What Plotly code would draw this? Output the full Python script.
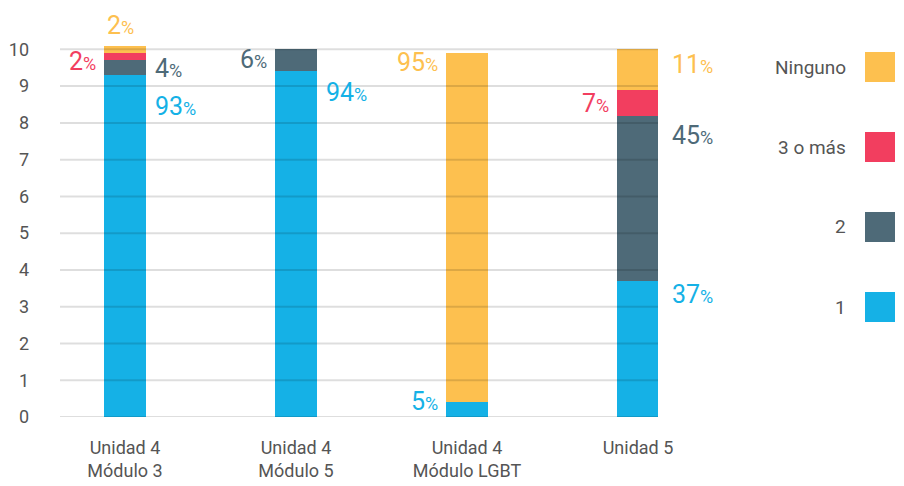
import plotly.graph_objects as go

# categories and series (y axis runs 0-10, i.e. share of 10)
categories = ["Unidad 4<br>Módulo 3", "Unidad 4<br>Módulo 5", "Unidad 4<br>Módulo LGBT", "Unidad 5"]
series_names = ["1", "2", "3 o más", "Ninguno"]
val_1 = [9.3, 9.4, 0.4, 3.7]
val_2 = [0.4, 0.6, 0.0, 4.5]
val_3 = [0.2, 0.0, 0.0, 0.7]
val_none = [0.2, 0.0, 9.5, 1.1]

pct_1 = [93, 94, 5, 37]
pct_2 = [4, 6, None, 45]
pct_3 = [2, None, None, 7]
pct_none = [2, None, 95, 11]

colors = ["#15b1e6", "#4e6a78", "#f23e5f", "#fdc04f"]
FONT = "Ubuntu Condensed, Roboto, sans-serif"
TXT = "#555555"

# where each percent label sits: (side, y) per series per bar
label_place = {
    0: [("right", 8.45), ("right", 8.83), ("left", 0.41), ("right", 3.32)],
    1: [("right", 9.48), ("left", 9.73), None, ("right", 7.66)],
    2: [("left", 9.67), None, None, ("left", 8.53)],
    3: [("top", 10.1), None, ("left", 9.65), ("right", 9.6)],
}

xs = list(range(len(categories)))
fig = go.Figure()
for name, vals, col in zip(series_names, [val_1, val_2, val_3, val_none], colors):
    fig.add_trace(go.Bar(x=xs, y=vals, name=name, marker=dict(color=col, line=dict(width=0)),
                         width=0.25, hoverinfo="skip"))

annotations = []
for si, pcts in enumerate([pct_1, pct_2, pct_3, pct_none]):
    for ci, p in enumerate(pcts):
        place = label_place[si][ci]
        if p is None or place is None:
            continue
        side, yv = place
        txt = f"{p}<span style='font-size:18px'>%</span>"
        ya, ysh = "middle", 0
        if side == "right":
            xa, xs_ = "left", 28 + (4 if ci == 3 else 0)
        elif side == "left":
            xa, xs_ = "right", -27
        else:
            xa, xs_, ya, ysh = "center", -4, "bottom", 4
        annotations.append(dict(x=ci, y=yv, xref="x", yref="y", text=txt, showarrow=False,
                                xanchor=xa, yanchor=ya, xshift=xs_, yshift=ysh,
                                font=dict(family=FONT, size=25, color=colors[si])))

# gridlines drawn above the bars
shapes = []
for g in range(0, 11):
    shapes.append(dict(type="line", xref="paper", yref="y", x0=0, x1=1, y0=g, y1=g,
                       line=dict(color="rgba(0,0,0,0.13)", width=2), layer="above"))

# custom legend on the right (text left of swatch)
legend_order = ["Ninguno", "3 o más", "2", "1"]
legend_cols = [colors[3], colors[2], colors[1], colors[0]]
for i, (lab, col) in enumerate(zip(legend_order, legend_cols)):
    yc = 486 - (67 + 80 * i)
    shapes.append(dict(type="rect", xref="paper", yref="paper",
                       x0=(865 - 60) / 598, x1=(895 - 60) / 598,
                       y0=(yc - 15 - 69) / 375, y1=(yc + 15 - 69) / 375,
                       fillcolor=col, line=dict(width=0), layer="above"))
    annotations.append(dict(x=(848 - 60) / 598, y=(yc - 69) / 375, xref="paper", yref="paper",
                            text=lab, showarrow=False, xanchor="right", yanchor="middle",
                            font=dict(family=FONT, size=19, color=TXT)))

fig.update_layout(
    width=904, height=486,
    margin=dict(l=60, r=246, t=42, b=69),
    barmode="stack",
    plot_bgcolor="white", paper_bgcolor="white",
    showlegend=False,
    font=dict(family=FONT, size=18, color=TXT),
    shapes=shapes,
    annotations=annotations,
    xaxis=dict(range=[-0.38, 3.117], tickmode="array", tickvals=xs, ticktext=categories,
               showgrid=False, zeroline=False, showline=False, ticks="", automargin=False,
               ticklabelstandoff=18, tickfont=dict(size=18, color=TXT)),
    yaxis=dict(range=[0, 10.2], tickvals=list(range(0, 11)), showgrid=False, zeroline=False,
               showline=False, ticks="", ticklabelstandoff=30, automargin=False,
               tickfont=dict(size=18, color=TXT)),
)

fig.write_html("out.html", config={"displayModeBar": False},
               post_script="document.body.style.margin='0';")
